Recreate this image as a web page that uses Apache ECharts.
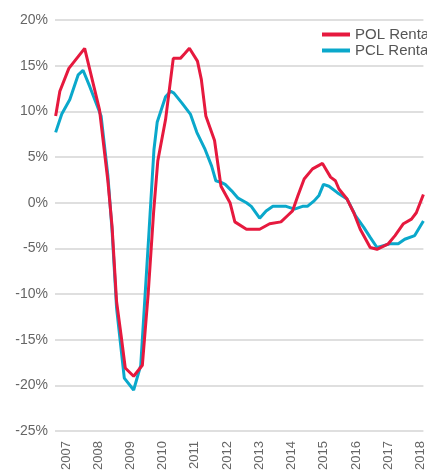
<!DOCTYPE html>
<html>
<head>
<meta charset="utf-8">
<script src="https://cdn.jsdelivr.net/npm/echarts@6/dist/echarts.min.js"></script>
<style>
  html, body { margin: 0; padding: 0; background: #fff; }
  #chart { width: 427px; height: 473px; }
</style>
</head>
<body>
<div id="chart"></div>
<script>
// x positions are decimal years, values in %
const yearTicks = [2007, 2008, 2009, 2010, 2011, 2012, 2013, 2014, 2015, 2016, 2017, 2018]

const polYears = [2006.68, 2006.81, 2007.09, 2007.58, 2008.04, 2008.30, 2008.43, 2008.57, 2008.71, 2008.84,
  2009.10, 2009.37, 2009.55, 2009.72, 2009.85, 2010.09, 2010.33, 2010.55, 2010.68, 2010.83,
  2011.08, 2011.20, 2011.34, 2011.61, 2011.81, 2012.09, 2012.24, 2012.60, 2013.01, 2013.32,
  2013.67, 2013.88, 2014.03, 2014.19, 2014.39, 2014.65, 2014.96, 2015.06, 2015.21, 2015.36,
  2015.47, 2015.72, 2015.93, 2016.13, 2016.44, 2016.65, 2017.00, 2017.21, 2017.47, 2017.72,
  2017.87, 2018.09]
const polValues = [9.5, 12.2, 14.7, 16.9, 10.2, 2.4, -2.6, -10.8, -14.5, -18.1,
  -19.0, -17.8, -10.0, -1.0, 4.6, 9.1, 15.8, 15.8, 16.3, 16.9,
  15.5, 13.5, 9.5, 6.8, 1.8, 0.0, -2.1, -2.9, -2.9, -2.3,
  -2.1, -1.4, -0.9, 0.7, 2.6, 3.7, 4.3, 3.7, 2.8, 2.4,
  1.5, 0.4, -1.1, -2.9, -4.9, -5.1, -4.5, -3.6, -2.3, -1.8,
  -1.1, 0.9]

const pclYears = [2006.68, 2006.87, 2007.12, 2007.38, 2007.53, 2007.74, 2008.09, 2008.30, 2008.43, 2008.57,
  2008.71, 2008.81, 2009.10, 2009.32, 2009.58, 2009.73, 2009.83, 2010.09, 2010.25, 2010.35,
  2010.60, 2010.86, 2011.06, 2011.32, 2011.52, 2011.65, 2011.83, 2011.94, 2012.14, 2012.34,
  2012.60, 2012.75, 2013.01, 2013.21, 2013.42, 2013.83, 2014.09, 2014.34, 2014.49, 2014.70,
  2014.85, 2014.99, 2015.16, 2015.42, 2015.72, 2015.98, 2016.24, 2016.44, 2016.65, 2016.85,
  2017.05, 2017.31, 2017.51, 2017.82, 2018.09]
const pclValues = [7.7, 9.7, 11.3, 14.0, 14.5, 12.7, 9.5, 3.0, -3.0, -11.5,
  -16.0, -19.2, -20.5, -17.8, -3.0, 5.8, 8.8, 11.6, 12.2, 12.0,
  10.9, 9.7, 7.7, 5.8, 4.0, 2.4, 2.2, 2.0, 1.3, 0.5,
  0.0, -0.4, -1.7, -0.9, -0.4, -0.4, -0.7, -0.4, -0.4, 0.2,
  0.8, 2.0, 1.8, 1.1, 0.4, -1.4, -2.7, -3.8, -4.9, -4.7,
  -4.5, -4.5, -4.0, -3.6, -2.0]

const chart = echarts.init(document.getElementById('chart'))
const fontFamily = '"Liberation Sans", Arial, sans-serif'

chart.setOption({
  animation: false,
  textStyle: { fontFamily },
  grid: { left: 55, right: 0, top: 20, bottom: 40 },
  legend: {
    orient: 'vertical',
    left: 317,
    top: 22,
    icon: 'rect',
    itemWidth: 28,
    itemHeight: 4,
    itemGap: 1,
    textStyle: { color: '#555', fontSize: 15, fontFamily },
    data: ['POL Rental', 'PCL Rental']
  },
  xAxis: {
    type: 'value',
    min: 2006.66,
    max: 2018.09,
    axisLine: { show: false },
    axisTick: { show: false },
    splitLine: { show: false },
    axisLabel: {
      customValues: yearTicks,
      rotate: 90,
      margin: 10,
      color: '#666',
      fontSize: 13,
      formatter: v => String(Math.round(v))
    }
  },
  yAxis: {
    type: 'value',
    min: -25,
    max: 20,
    interval: 5,
    axisLine: { show: false },
    axisTick: { show: false },
    axisLabel: { color: '#666', fontSize: 14, margin: 7, formatter: '{value}%' },
    splitLine: { lineStyle: { color: '#d4d4d4', width: 1.5 } }
  },
  series: [
    {
      name: 'POL Rental',
      type: 'line',
      showSymbol: false,
      data: polYears.map((x, i) => [x, polValues[i]]),
      lineStyle: { color: '#e6193e', width: 3 },
      itemStyle: { color: '#e6193e' },
      z: 3
    },
    {
      name: 'PCL Rental',
      type: 'line',
      showSymbol: false,
      data: pclYears.map((x, i) => [x, pclValues[i]]),
      lineStyle: { color: '#0aa8cb', width: 3 },
      itemStyle: { color: '#0aa8cb' },
      z: 2
    }
  ]
})
</script>
</body>
</html>
